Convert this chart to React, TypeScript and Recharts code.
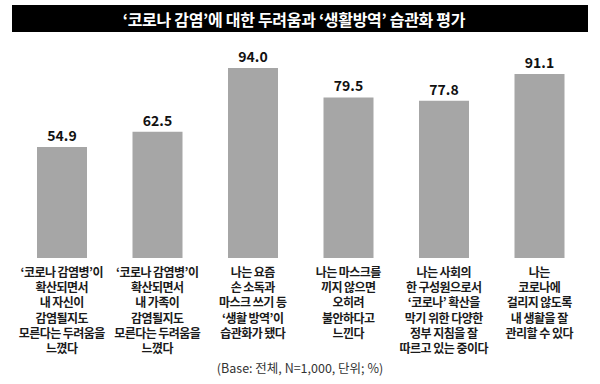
import { BarChart, Bar, XAxis, YAxis, LabelList } from 'recharts';

// ─── Data ─────────────────────────────────────────────────────────────────────
const TITLE = '‘코로나 감염’에 대한 두려움과 ‘생활방역’ 습관화 평가';
const NOTE = '(Base: 전체, N=1,000, 단위; %)';

const categories = [
  '‘코로나 감염병’이\n확산되면서\n내 자신이\n감염될지도\n모른다는 두려움을\n느꼈다',
  '‘코로나 감염병’이\n확산되면서\n내 가족이\n감염될지도\n모른다는 두려움을\n느꼈다',
  '나는 요즘\n손 소독과\n마스크 쓰기 등\n‘생활 방역’이\n습관화가 됐다',
  '나는 마스크를\n끼지 않으면\n오히려\n불안하다고\n느낀다',
  '나는 사회의\n한 구성원으로서\n‘코로나’ 확산을\n막기 위한 다양한\n정부 지침을 잘\n따르고 있는 중이다',
  '나는\n코로나에\n걸리지 않도록\n내 생활을 잘\n관리할 수 있다',
];
const values = [54.9, 62.5, 94.0, 79.5, 77.8, 91.1];

const data = categories.map((name, i) => ({ name, value: values[i] }));

const FONT = '"Noto Sans CJK KR", "Noto Sans", sans-serif';

// ─── Multiline category tick (one <text> per line) ────────────────────────────
const CategoryTick = ({ x, y, payload }: any) => {
  const lines = String(payload.value).split('\n');
  return (
    <g>
      {lines.map((l, i) => (
        <text key={i} x={x} y={y + 11 + i * 15.2} textAnchor="middle" fontFamily={FONT}
          fontSize={12} fontWeight={600} fill="#1a1a1a" letterSpacing={-0.55}>
          {l}
        </text>
      ))}
    </g>
  );
};

export default function App() {
  return (
    <div style={{ position: 'absolute', left: 0, top: 0, width: 600, height: 384, background: '#fff' }}>
      <div style={{
        position: 'absolute', left: 12, top: 5, width: 576, height: 27, background: '#000',
        color: '#fff', fontFamily: FONT, fontSize: 16, fontWeight: 700, letterSpacing: -0.3,
        display: 'flex', alignItems: 'center', justifyContent: 'center', paddingRight: 12,
        boxSizing: 'border-box',
      }}>
        {TITLE}
      </div>
      <BarChart width={600} height={384} data={data}
        margin={{ top: 56, right: 13, left: 14, bottom: 0 }} barSize={50}>
        <XAxis dataKey="name" axisLine={false} tickLine={false} tick={<CategoryTick />}
          interval={0} height={126} />
        <YAxis hide domain={[0, 100]} />
        <Bar dataKey="value" fill="#a6a6a6" isAnimationActive={false}>
          <LabelList dataKey="value" position="top" offset={6}
            formatter={(v: any) => Number(v).toFixed(1)}
            style={{ fontFamily: FONT, fontSize: 14, fontWeight: 700, fill: '#111' }} />
        </Bar>
      </BarChart>
      <div style={{
        position: 'absolute', left: 0, top: 358, width: 600, textAlign: 'center',
        fontFamily: FONT, fontSize: 12.5, color: '#333',
      }}>
        {NOTE}
      </div>
    </div>
  );
}
